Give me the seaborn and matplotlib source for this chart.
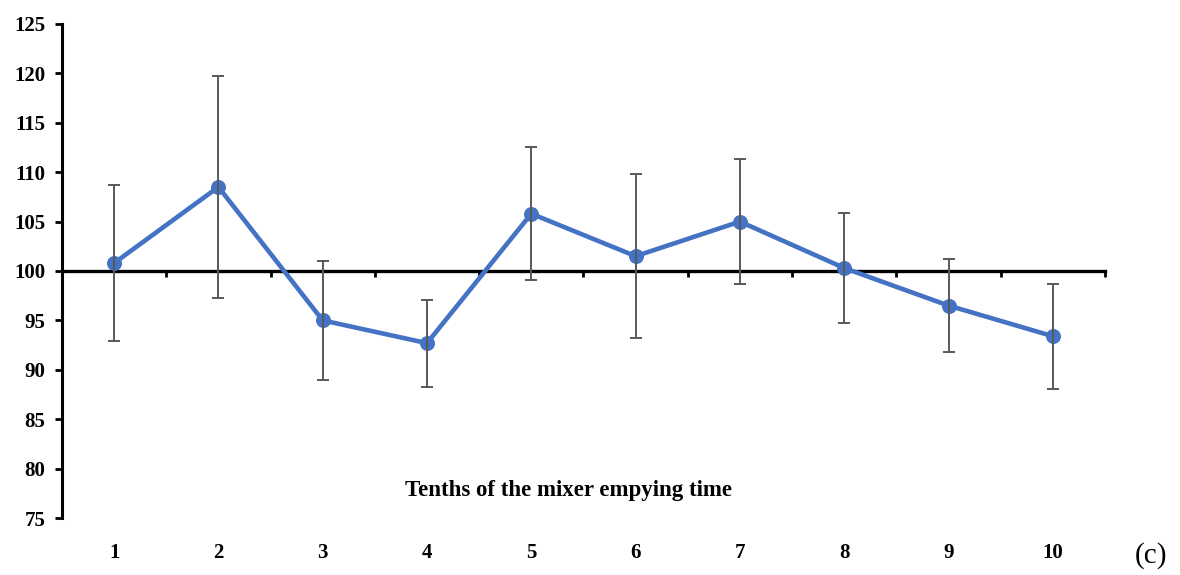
import numpy as np
import pandas as pd
import matplotlib
matplotlib.use("Agg")
import matplotlib.pyplot as plt
import seaborn as sns

# Relative values per tenth of the mixer emptying time, with their error half-widths
tenths = [1, 2, 3, 4, 5, 6, 7, 8, 9, 10]
mean_values = [100.8, 108.5, 95.0, 92.7, 105.8, 101.5, 105.0, 100.3, 96.5, 93.4]
error_values = [7.9, 11.2, 6.05, 4.4, 6.7, 8.3, 6.35, 5.6, 4.7, 5.3]
y_ticks = [75, 80, 85, 90, 95, 100, 105, 110, 115, 120, 125]

sns.set_theme(style="white")
plt.rcParams["font.family"] = ["Liberation Serif", "DejaVu Serif"]
plt.rcParams["text.color"] = "black"
plt.rcParams["xtick.color"] = "black"
plt.rcParams["ytick.color"] = "black"

df = pd.DataFrame({"tenth": tenths, "value": mean_values, "err": error_values})

fig = plt.figure(figsize=(11.8, 5.75), dpi=100)
ax = fig.add_axes([0.0525, 0.0991, 0.8839, 0.8592])

line_color = "#4472C4"
sns.lineplot(data=df, x="tenth", y="value", ax=ax, color=line_color,
             linewidth=3.3, marker="o", markersize=10,
             markeredgecolor=line_color, zorder=3)
ax.errorbar(df["tenth"], df["value"], yerr=df["err"], fmt="none",
            ecolor="#595959", elinewidth=1.4, capsize=4.5, capthick=1.4,
            zorder=4)

ax.set_xlim(0.5, 10.5)
ax.set_ylim(75, 125)
ax.set_yticks(y_ticks)
ax.set_xticks(tenths)
ax.set_xticklabels([str(t) for t in tenths], fontweight="bold", fontsize=15)
ax.set_yticklabels([str(t) for t in y_ticks], fontweight="bold", fontsize=15)
ax.tick_params(axis="x", length=0, pad=18)
ax.tick_params(axis="y", direction="out", length=5, width=2, color="black",
               pad=7, left=True)

for side in ["top", "right", "bottom"]:
    ax.spines[side].set_visible(False)
ax.spines["left"].set_linewidth(2.2)
ax.spines["left"].set_color("black")
ax.set_xlabel("")
ax.set_ylabel("")

# Reference axis crossing at 100, with category boundary ticks
ref = ax.secondary_xaxis(0.5)
ref.set_xticks(np.arange(1.5, 11.0, 1.0))
ref.tick_params(axis="x", direction="in", length=4, width=2, color="black",
                labelbottom=False, labeltop=False)
for side in ["top", "bottom"]:
    ref.spines[side].set_linewidth(2.4)
    ref.spines[side].set_color("black")
    ref.spines[side].set_zorder(2.5)

ax.text(0.486, 0.055, "Tenths of the mixer empying time", transform=ax.transAxes,
        ha="center", va="center", fontsize=16.5, fontweight="bold")

fig.text(0.975, 0.033, "(c)", ha="center", va="center", fontsize=21)

fig.savefig("out.png", dpi=100)
